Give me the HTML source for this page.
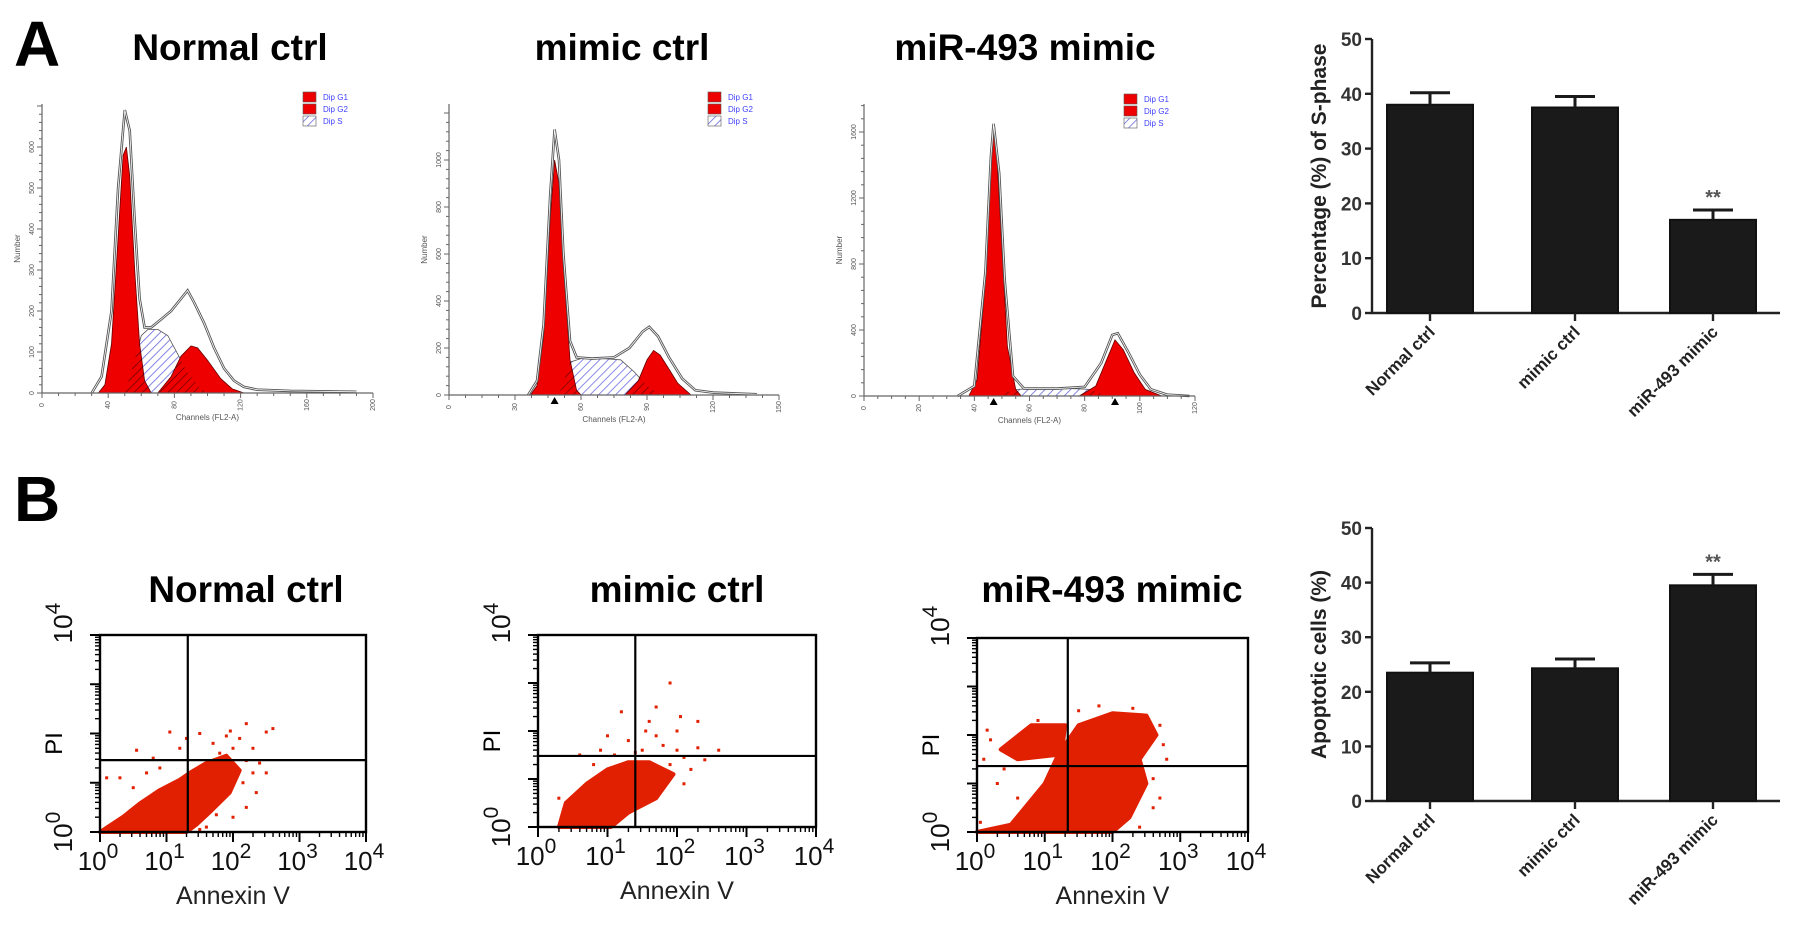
<!DOCTYPE html>
<html><head><meta charset="utf-8"><style>
html,body{margin:0;padding:0;background:#fff;}
svg{display:block;font-family:"Liberation Sans",Arial,sans-serif;}
</style></head><body>
<svg id="fig" width="1795" height="951" viewBox="0 0 1795 951">
<defs>
<pattern id="hatchBlue" patternUnits="userSpaceOnUse" width="6" height="6" patternTransform="rotate(45)">
<rect width="6" height="6" fill="#fff"/><line x1="0" y1="0" x2="0" y2="6" stroke="#6a6ae0" stroke-width="1.6"/></pattern>
<pattern id="hatchDark" patternUnits="userSpaceOnUse" width="6" height="6" patternTransform="rotate(45)">
<line x1="0" y1="0" x2="0" y2="6" stroke="#500" stroke-width="1.2"/></pattern>
</defs>
<text x="14" y="66" font-size="64" font-weight="bold">A</text>
<text x="14" y="521" font-size="64" font-weight="bold">B</text>
</svg>
<script>
// ---------- Histogram data (channel, count) ----------
const h1G1 = [[34,0],[38,20],[42,120],[46,380],[49,580],[51,600],[53,530],[56,300],[59,120],[62,30],[66,0]];
const h1S  = [[50,0],[56,80],[60,140],[64,155],[70,155],[76,140],[82,95],[88,50],[95,15],[100,0]];
const h1G2 = [[70,0],[78,40],[84,90],[90,115],[94,110],[100,80],[108,35],[115,10],[122,0]];
const h1Tot= [[30,0],[36,40],[42,200],[46,500],[50,690],[53,640],[56,420],[59,230],[62,160],[66,160],[72,180],[78,200],[84,230],[88,250],[92,220],[98,170],[104,110],[110,60],[116,30],[122,15],[130,8],[150,5],[190,3]];
const h2G1 = [[37,0],[40,40],[43,250],[46,750],[48,1000],[50,900],[52,550],[55,150],[58,20],[60,0]];
const h2S  = [[50,0],[55,140],[60,155],[70,155],[78,150],[84,100],[90,40],[96,0]];
const h2G2 = [[80,0],[86,60],[90,150],[93,190],[96,170],[100,110],[104,50],[110,0]];
const h2Tot= [[36,0],[40,60],[43,300],[46,850],[48,1130],[50,1000],[52,600],[55,230],[58,160],[65,155],[75,160],[82,200],[88,270],[91,290],[95,250],[100,160],[106,70],[112,20],[120,10],[140,3]];
const h3G1 = [[38,0],[41,100],[44,700],[46,1400],[47,1610],[48,1500],[50,900],[52,300],[55,40],[57,0]];
const h3S  = [[48,0],[55,40],[65,45],[75,45],[82,40],[88,0]];
const h3G2 = [[78,0],[84,60],[88,220],[91,340],[94,280],[98,140],[102,40],[108,0]];
const h3Tot= [[34,0],[40,60],[44,750],[46,1450],[47,1650],[49,1350],[51,700],[54,120],[58,45],[70,45],[80,55],[86,200],[90,370],[92,380],[96,260],[100,130],[104,40],[110,8],[118,0]];
const h1XTicks=[0,40,80,120,160,200], h1YTicks=[0,100,200,300,400,500,600];
const h2XTicks=[0,30,60,90,120,150], h2YTicks=[0,200,400,600,800,1000];
const h3XTicks=[0,20,40,60,80,100,120], h3YTicks=[0,400,800,1200,1600];
const h2Marks=[48], h3Marks=[47,91];

// ---------- Bar chart data ----------
const barCats = ["Normal ctrl","mimic ctrl","miR-493 mimic"];
const sPhaseVals = [38, 37.5, 17];
const sPhaseErr  = [2.2, 2.0, 1.8];
const apopVals = [23.5, 24.3, 39.5];
const apopErr  = [1.8, 1.7, 2.0];
const barTicks = [0,10,20,30,40,50];

// ---------- Scatter data (log10 units) ----------
const sc1Clusters=[[[0,0],[0.35,0.31],[0.6,0.58],[0.9,0.85],[1.2,1.06],[1.35,1.2],[1.6,1.4],[1.9,1.55],[2.1,1.25],[1.95,0.8],[1.65,0.4],[1.45,0.15],[1.3,0]]];
const sc1Dots=[[1.05,2.03],[1.5,2.0],[1.96,2.05],[2.5,2.03],[0.55,1.66],[2.2,0.5],[2.5,1.2],[0.1,1.1],[0.3,1.1],[0.8,1.5],[1.2,1.7],[1.7,1.8],[2.1,1.9],[2.3,1.7],[2.3,1.2],[2.0,0.3],[1.6,0.1],[0.7,1.2],[2.4,1.4],[1.8,1.6],[2.2,2.2],[1.3,1.9],[2.0,1.7],[2.2,1.45],[1.9,1.95],[2.6,2.1],[2.35,0.8],[1.5,0.05],[0.5,0.9],[0.9,1.3],[2.15,1.0],[1.75,0.35]];
const sc2Clusters=[[[0.3,0],[0.4,0.5],[0.7,0.9],[1.0,1.2],[1.3,1.35],[1.6,1.35],[1.95,1.1],[1.7,0.6],[1.3,0.3],[1.05,0]]];
const sc2Dots=[[1.9,3.0],[1.6,2.2],[1.0,1.9],[1.3,1.8],[1.7,1.9],[2.0,2.0],[2.3,2.2],[2.0,1.6],[2.4,1.4],[2.6,1.6],[0.6,1.5],[0.9,1.6],[1.5,1.6],[2.2,1.2],[1.9,1.3],[2.1,0.9],[0.3,0.6],[1.2,2.4],[1.7,2.5],[1.1,1.5],[1.4,1.55],[1.8,1.7],[2.1,1.45],[2.3,1.65],[0.8,1.3],[1.55,2.0],[2.05,2.3]];
const sc3Clusters=[[[0,0],[0.5,0.15],[1.0,1.0],[1.2,1.6],[1.5,2.2],[2.0,2.45],[2.5,2.4],[2.65,2.0],[2.4,1.5],[2.5,1.0],[2.25,0.3],[2.0,0],[1.0,0]],[[0.35,1.7],[0.8,2.2],[1.3,2.2],[1.25,1.6],[0.6,1.5]]];
const sc3Dots=[[0.2,1.9],[0.1,1.5],[0.3,1.0],[0.6,0.7],[2.7,2.2],[2.8,1.5],[2.7,0.7],[2.4,0.1],[1.8,2.6],[0.9,2.3],[2.6,1.1],[0.05,0.2],[0.4,1.3],[0.7,0.4],[2.75,1.8],[2.6,0.5],[0.15,2.1],[1.5,2.5],[2.3,2.55]];
const logTicks=[0,1,2,3,4];

const svg=document.getElementById('fig');
const NS='http://www.w3.org/2000/svg';
function mk(tag,attrs,parent){const e=document.createElementNS(NS,tag);for(const k in attrs)e.setAttribute(k,attrs[k]);(parent||svg).appendChild(e);return e;}

// ---------- Histograms ----------
function hist(o){
  const g=mk('g',{});
  
  
  const sx=c=>o.x0+(c/o.xmax)*(o.x1-o.x0);
  const sy=v=>o.base-v*o.k;
  const path=pts=>'M'+pts.map(p=>sx(p[0]).toFixed(1)+','+sy(p[1]).toFixed(1)).join('L');
  const t=mk('text',{x:o.tx,y:60,'font-size':37,'font-weight':'bold','text-anchor':'middle'},g);
  t.textContent=o.title;
  
  
  const s=mk('path',{d:path(o.S)+'Z',fill:'url(#hatchBlue)',stroke:'#555','stroke-width':0.8},g);
  
  
  const a=mk('path',{d:path(o.G1)+'Z',fill:'#ee0000',stroke:'#600','stroke-width':0.8},g);
  
  
  const b=mk('path',{d:path(o.G2)+'Z',fill:'#ee0000',stroke:'#600','stroke-width':0.8},g);
  
  
  const cid='clip'+o.name;
  const cp=mk('clipPath',{id:cid},g);
  mk('path',{d:path(o.G1)+'Z'},cp);mk('path',{d:path(o.G2)+'Z'},cp);
  const ov=mk('path',{d:path(o.S)+'Z',fill:'url(#hatchDark)','clip-path':'url(#'+cid+')'},g);
  
  
  const tot=mk('path',{d:path(o.Tot),fill:'none',stroke:'#555','stroke-width':2.6},g);
  
  
  mk('path',{d:path(o.Tot),fill:'none',stroke:'#fff','stroke-width':0.8},g);
  const ax=mk('path',{d:`M${o.x0},${o.top}V${o.base}H${o.x1}`,stroke:'#666',fill:'none','stroke-width':1.2},g);
  
  
  const ymaxV=(o.base-o.top)/o.k;
  const step=o.yt[1]/5;
  for(let v=0;v<=ymaxV;v+=step){mk('line',{x1:o.x0-(v%o.yt[1]===0?5:3),x2:o.x0,y1:sy(v),y2:sy(v),stroke:'#666'},g);}
  o.yt.forEach(v=>{const l=mk('text',{x:o.x0-8,y:sy(v),'font-size':7,fill:'#555','text-anchor':'middle',transform:`rotate(-90 ${o.x0-8} ${sy(v)})`},g);l.textContent=v;
    
    });
  const xs=o.xt[1]/4;
  for(let c=0;c<=o.xmax;c+=xs){mk('line',{x1:sx(c),x2:sx(c),y1:o.base,y2:o.base+(c%o.xt[1]===0?5:3),stroke:'#666'},g);}
  o.xt.forEach(c=>{const l=mk('text',{x:sx(c),y:o.base+14,'font-size':7,fill:'#555','text-anchor':'middle',transform:`rotate(-90 ${sx(c)} ${o.base+12})`},g);l.textContent=c;
    
    });
  (o.marks||[]).forEach(c=>{const m=mk('path',{d:`M${sx(c)-4},${o.base+9}L${sx(c)+4},${o.base+9}L${sx(c)},${o.base+2}Z`,fill:'#000'},g);
    
    });
  const xl=mk('text',{x:(o.x0+o.x1)/2,y:o.base+27,'font-size':8,fill:'#555','text-anchor':'middle'},g);xl.textContent='Channels (FL2-A)';
  
  
  const yy=(o.top+o.base)/2;
  const yl=mk('text',{x:o.x0-22,y:yy,'font-size':8,fill:'#555','text-anchor':'middle',transform:`rotate(-90 ${o.x0-22} ${yy})`},g);yl.textContent='Number';
  
  
  const lg=mk('g',{},g);
  
  
  [['Dip G1','#ee0000'],['Dip G2','#ee0000'],['Dip S','url(#hatchBlue)']].forEach((e,i)=>{
    mk('rect',{x:o.lx,y:o.ly+i*12,width:13,height:10,fill:e[1],stroke:'#555','stroke-width':0.6},lg);
    const tx=mk('text',{x:o.lx+20,y:o.ly+i*12+8,'font-size':8,fill:'#4040ff'},lg);tx.textContent=e[0];
    
    
  });
}
hist({name:'histogram-normal-ctrl',title:'Normal ctrl',tx:230,x0:42,x1:373,xmax:200,base:393,top:104,k:0.41,G1:h1G1,S:h1S,G2:h1G2,Tot:h1Tot,xt:h1XTicks,yt:h1YTicks,lx:303,ly:92});
hist({name:'histogram-mimic-ctrl',title:'mimic ctrl',tx:622,x0:449,x1:779,xmax:150,base:395,top:104,k:0.235,G1:h2G1,S:h2S,G2:h2G2,Tot:h2Tot,xt:h2XTicks,yt:h2YTicks,lx:708,ly:92,marks:h2Marks});
hist({name:'histogram-mir493-mimic',title:'miR-493 mimic',tx:1025,x0:864,x1:1195,xmax:120,base:396,top:104,k:0.165,G1:h3G1,S:h3S,G2:h3G2,Tot:h3Tot,xt:h3XTicks,yt:h3YTicks,lx:1124,ly:94,marks:h3Marks});

// ---------- Bar charts ----------
function bars(o){
  const g=mk('g',{});
  
  
  const ax=1372, axEnd=1780;
  const sy=v=>o.y0-(v/50)*(o.y0-o.y50);
  const centers=[1430,1575,1713], bw=86;
  mk('path',{d:`M${ax},${o.y50}V${o.y0}H${axEnd}`,stroke:'#222','stroke-width':2.4,fill:'none'},g);
  barTicks.forEach(v=>{mk('line',{x1:ax-7,x2:ax,y1:sy(v),y2:sy(v),stroke:'#222','stroke-width':2.4},g);
    const t=mk('text',{x:ax-10,y:sy(v)+7,'font-size':19,'font-weight':'bold',fill:'#333','text-anchor':'end'},g);t.textContent=v;
    
    });
  barCats.forEach((c,i)=>{
    const cx=centers[i];
    const r=mk('rect',{x:cx-bw/2,y:sy(o.vals[i]),width:bw,height:o.y0-sy(o.vals[i]),fill:'#1a1a1a',stroke:'#111','stroke-width':2},g);
    
    
    const e=mk('path',{d:`M${cx},${sy(o.vals[i])}V${sy(o.vals[i]+o.err[i])}M${cx-20},${sy(o.vals[i]+o.err[i])}H${cx+20}`,stroke:'#1a1a1a','stroke-width':3,fill:'none'},g);
    
    
    mk('line',{x1:cx,x2:cx,y1:o.y0,y2:o.y0+8,stroke:'#222','stroke-width':2.4},g);
    const tx=cx+6, ty=o.y0+20;
    const l=mk('text',{x:tx,y:ty,'font-size':17,'font-weight':'bold',fill:'#222','text-anchor':'end',transform:`rotate(-45 ${tx} ${ty})`},g);l.textContent=c;
    
    
    if(o.sig[i]){const s=mk('text',{x:cx,y:sy(o.vals[i]+o.err[i])-6,'font-size':20,'font-weight':'bold',fill:'#555','text-anchor':'middle'},g);s.textContent='**';
      
      }
  });
  const my=(o.y0+o.y50)/2;
  const yl=mk('text',{x:1326,y:my,'font-size':21,'font-weight':'bold',fill:'#222','text-anchor':'middle',transform:`rotate(-90 1326 ${my})`},g);yl.textContent=o.label;
  
  
}
bars({name:'s-phase-bar-chart',y0:313,y50:39,vals:sPhaseVals,err:sPhaseErr,sig:[0,0,1],label:'Percentage (%) of S-phase'});
bars({name:'apoptosis-bar-chart',y0:801,y50:528,vals:apopVals,err:apopErr,sig:[0,0,1],label:'Apoptotic cells (%)'});

// ---------- Scatter plots ----------
function scatter(o){
  const g=mk('g',{});
  
  
  const sx=v=>o.x0+v/4*(o.x1-o.x0), sy=v=>o.y1-v/4*(o.y1-o.y0);
  const t=mk('text',{x:o.tx,y:602,'font-size':37,'font-weight':'bold','text-anchor':'middle'},g);t.textContent=o.title;
  
  
  o.clusters.forEach(poly=>{const p=mk('path',{d:'M'+poly.map(q=>sx(q[0]).toFixed(1)+','+sy(q[1]).toFixed(1)).join('L')+'Z',fill:'#e02000',stroke:'#e02000','stroke-width':4,'stroke-linejoin':'round'},g);
    
    });
  o.dots.forEach(d=>{const c=mk('rect',{x:sx(d[0])-1.5,y:sy(d[1])-1.5,width:3,height:3,fill:'#e02000'},g);
    
    });
  const b=mk('rect',{x:o.x0,y:o.y0,width:o.x1-o.x0,height:o.y1-o.y0,fill:'none',stroke:'#000','stroke-width':2.4},g);
  
  
  const q=mk('path',{d:`M${sx(o.qx)},${o.y0}V${o.y1}M${o.x0},${sy(o.qy)}H${o.x1}`,stroke:'#000','stroke-width':2.2},g);
  
  
  logTicks.forEach(d=>{
    if(d<4)for(let m=2;m<10;m++){const v=d+Math.log10(m);
      mk('line',{x1:sx(v),x2:sx(v),y1:o.y1,y2:o.y1+5,stroke:'#000','stroke-width':1.4},g);
      mk('line',{x1:o.x0-5,x2:o.x0,y1:sy(v),y2:sy(v),stroke:'#000','stroke-width':1.4},g);}
    mk('line',{x1:sx(d),x2:sx(d),y1:o.y1,y2:o.y1+10,stroke:'#000','stroke-width':2},g);
    mk('line',{x1:o.x0-10,x2:o.x0,y1:sy(d),y2:sy(d),stroke:'#000','stroke-width':2},g);
    const l=mk('text',{x:sx(d)-2,y:o.y1+38,'font-size':26,'text-anchor':'middle',fill:'#111'},g);
    l.textContent='10';
    const sp=mk('tspan',{dy:-12,'font-size':21},l);sp.textContent=d;
    
    
  });
  [0,4].forEach(d=>{const yx=o.x0-28, yy=sy(d)+(d===0?0:-12);
    const l=mk('text',{x:yx,y:yy,'font-size':26,'text-anchor':'middle',fill:'#111',transform:`rotate(-90 ${yx} ${yy})`},g);
    l.textContent='10';const sp=mk('tspan',{dy:-12,'font-size':21},l);sp.textContent=d;
    
    });
  const mid=(o.y0+o.y1)/2+10, px=o.x0-58;
  const pl=mk('text',{x:px+20,y:mid,'font-size':24,'text-anchor':'middle',transform:`rotate(-90 ${px+20} ${mid})`},g);pl.textContent='PI';
  
  
  const al=mk('text',{x:(o.x0+o.x1)/2,y:o.y1+72,'font-size':25,'text-anchor':'middle',fill:'#222'},g);al.textContent='Annexin V';
  
  
}
scatter({name:'scatter-normal-ctrl',title:'Normal ctrl',tx:246,x0:100,x1:366,y0:635,y1:832,qx:1.32,qy:1.46,clusters:sc1Clusters,dots:sc1Dots});
scatter({name:'scatter-mimic-ctrl',title:'mimic ctrl',tx:677,x0:538,x1:816,y0:635,y1:827,qx:1.4,qy:1.48,clusters:sc2Clusters,dots:sc2Dots});
scatter({name:'scatter-mir493-mimic',title:'miR-493 mimic',tx:1112,x0:977,x1:1248,y0:638,y1:832,qx:1.34,qy:1.36,clusters:sc3Clusters,dots:sc3Dots});
</script>
</body></html>
